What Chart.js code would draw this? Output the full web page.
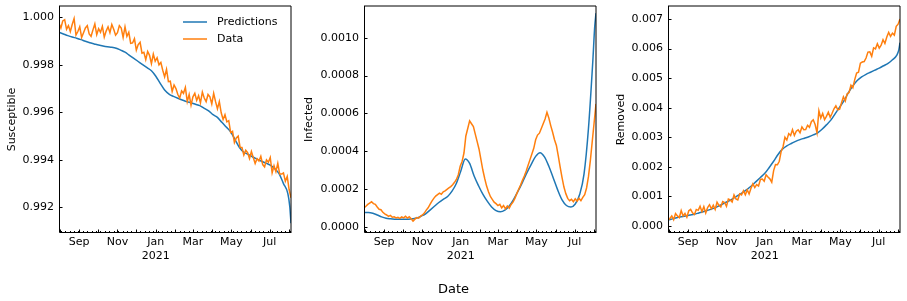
<!DOCTYPE html>
<html>
<head>
<meta charset="utf-8">
<script src="https://cdn.jsdelivr.net/npm/chart.js@4.4.1/dist/chart.umd.min.js"></script>
<style>
  html, body { margin: 0; padding: 0; background: #fff; }
  body { width: 907px; height: 301px; position: relative; overflow: hidden; font-family: 'DejaVu Sans', sans-serif; }
  .panel { position: absolute; top: 0; height: 301px; }
  #xtitle { position: absolute; left: 0; width: 907px; top: 281px; text-align: center; font-size: 13px; color: #000; }
</style>
</head>
<body>
<div class="panel" style="left:0px;width:300px"><canvas id="susChart" width="300" height="301"></canvas></div>
<div class="panel" style="left:300px;width:305px"><canvas id="infChart" width="305" height="301"></canvas></div>
<div class="panel" style="left:600px;width:307px"><canvas id="remChart" width="307" height="301"></canvas></div>
<div id="xtitle">Date</div>
<script>
// day 0 = 2020-07-30
const startDate = Date.UTC(2020, 6, 30);
const dayOf = s => (Date.parse(s) - startDate) / 864e5;

const tickDates = ['2020-09-01', '2020-11-01', '2021-01-01', '2021-03-01', '2021-05-01', '2021-07-01'];
const tickLabels = [['Sep'], ['Nov'], ['Jan', '2021'], ['Mar'], ['May'], ['Jul']];
const monthDates = ['2020-08-01', '2020-09-01', '2020-10-01', '2020-11-01', '2020-12-01', '2021-01-01',
    '2021-02-01', '2021-03-01', '2021-04-01', '2021-05-01', '2021-06-01', '2021-07-01', '2021-08-01'];

// observed data, one value every 3 days starting 2020-07-31
const susData = [
    0.99975, 0.99955, 0.99985, 0.99990, 0.99950, 0.99965, 0.99940, 0.99970, 0.99995, 0.99925,
    0.99940, 0.99960, 0.99915, 0.99935, 0.99955, 0.99965, 0.99930, 0.99920, 0.99947, 0.99972,
    0.99927, 0.99952, 0.99937, 0.99962, 0.99917, 0.99942, 0.99960, 0.99935, 0.99970, 0.99950,
    0.99925, 0.99935, 0.99965, 0.99955, 0.99915, 0.99960, 0.99920, 0.99937, 0.99890, 0.99892,
    0.99910, 0.99862, 0.99885, 0.99895, 0.99849, 0.99853, 0.99822, 0.99856, 0.99840, 0.99805,
    0.99845, 0.99815, 0.99830, 0.99800, 0.99810, 0.99777, 0.99749, 0.99781, 0.99729, 0.99731,
    0.99688, 0.99715, 0.99700, 0.99675, 0.99660, 0.99690, 0.99680, 0.99705, 0.99645, 0.99675,
    0.99630, 0.99665, 0.99680, 0.99650, 0.99670, 0.99640, 0.99685, 0.99660, 0.99645, 0.99675,
    0.99665, 0.99635, 0.99680, 0.99645, 0.99615, 0.99645, 0.99598, 0.99570, 0.99590, 0.99560,
    0.99565, 0.99515, 0.99520, 0.99473, 0.99492, 0.99500, 0.99453, 0.99452, 0.99420, 0.99440,
    0.99430, 0.99405, 0.99435, 0.99410, 0.99385, 0.99405, 0.99395, 0.99415, 0.99380, 0.99370,
    0.99400, 0.99390, 0.99410, 0.99345, 0.99375, 0.99350, 0.99385, 0.99340, 0.99340, 0.99345,
    0.99310, 0.99330, 0.99275, 0.99240
];
const infData = [
    0.000100, 0.000108, 0.000118, 0.000125, 0.000132, 0.000122, 0.000118, 0.000104, 0.000092, 0.000090,
    0.000076, 0.000068, 0.000062, 0.000055, 0.000060, 0.000050, 0.000052, 0.000046, 0.000050, 0.000044,
    0.000052, 0.000047, 0.000055, 0.000046, 0.000053, 0.000042, 0.000030, 0.000040, 0.000048, 0.000045,
    0.000056, 0.000062, 0.000072, 0.000088, 0.000100, 0.000118, 0.000135, 0.000150, 0.000162, 0.000170,
    0.000178, 0.000172, 0.000185, 0.000190, 0.000198, 0.000205, 0.000212, 0.000222, 0.000235, 0.000250,
    0.000275, 0.000320, 0.000345, 0.000390, 0.000480, 0.000520, 0.000560, 0.000545, 0.000530, 0.000490,
    0.000450, 0.000410, 0.000355, 0.000300, 0.000255, 0.000215, 0.000185, 0.000160, 0.000145, 0.000130,
    0.000122, 0.000112, 0.000118, 0.000100, 0.000112, 0.000095, 0.000110, 0.000098, 0.000118, 0.000130,
    0.000150, 0.000175, 0.000198, 0.000220, 0.000245, 0.000268, 0.000295, 0.000325, 0.000355, 0.000385,
    0.000415, 0.000460, 0.000485, 0.000495, 0.000520, 0.000545, 0.000570, 0.000605, 0.000575, 0.000535,
    0.000500, 0.000460, 0.000430, 0.000375, 0.000315, 0.000260, 0.000210, 0.000175, 0.000150, 0.000138,
    0.000145, 0.000132, 0.000148, 0.000135, 0.000150, 0.000138, 0.000155, 0.000170, 0.000205, 0.000265,
    0.000350, 0.000450, 0.000550, 0.000650
];
const remData = [
    0.000200, 0.000255, 0.000340, 0.000210, 0.000420, 0.000340, 0.000285, 0.000520, 0.000340, 0.000425,
    0.000295, 0.000515, 0.000560, 0.000445, 0.000390, 0.000560, 0.000530, 0.000665, 0.000485, 0.000655,
    0.000440, 0.000625, 0.000720, 0.000580, 0.000700, 0.000560, 0.000805, 0.000700, 0.000645, 0.000825,
    0.000795, 0.000665, 0.000910, 0.000880, 0.000810, 0.001050, 0.000915, 0.000880, 0.001085, 0.001050,
    0.001190, 0.001055, 0.001220, 0.001085, 0.001275, 0.001425, 0.001300, 0.001400, 0.001350, 0.001575,
    0.001590, 0.001515, 0.001730, 0.001655, 0.001595, 0.001480, 0.001875, 0.002075, 0.002070, 0.002190,
    0.002520, 0.002680, 0.003000, 0.002905, 0.003125, 0.003060, 0.003255, 0.003060, 0.003205, 0.003250,
    0.003155, 0.003350, 0.003255, 0.003260, 0.003405, 0.003335, 0.003525, 0.003590, 0.003430, 0.003150,
    0.003900, 0.003650, 0.003805, 0.003595, 0.003710, 0.003850, 0.003675, 0.003815, 0.003965, 0.004065,
    0.003930, 0.003950, 0.004165, 0.004370, 0.004225, 0.004470, 0.004515, 0.004760, 0.004675, 0.004950,
    0.005175, 0.005200, 0.005505, 0.005545, 0.005560, 0.005680, 0.005880, 0.005890, 0.005740, 0.006025,
    0.005990, 0.006165, 0.006015, 0.006115, 0.006300, 0.006170, 0.006390, 0.006550, 0.006410, 0.006520,
    0.006455, 0.006755, 0.006825, 0.007000
];

// model predictions, weekly from 2020-07-31 plus the last few days
const predDays = [1, 8, 15, 22, 29, 36, 43, 50, 57, 64, 71, 78, 85, 92, 99, 106, 113, 120, 127, 134,
    141, 148, 155, 162, 169, 176, 183, 190, 197, 204, 211, 218, 225, 232, 239, 246, 253, 260, 267, 274,
    281, 288, 295, 302, 309, 316, 323, 330, 337, 344, 351, 358, 365, 368, 370];
const susPred = [
    0.99937, 0.99930, 0.99923, 0.99917, 0.99912, 0.99906, 0.99899, 0.99893, 0.99888, 0.99883,
    0.99879, 0.99876, 0.99874, 0.99870, 0.99862, 0.99853, 0.99840, 0.99827, 0.99814, 0.99801,
    0.99788, 0.99775, 0.99752, 0.99722, 0.99694, 0.99677, 0.99667, 0.99659, 0.99652, 0.99645,
    0.99640, 0.99634, 0.99628, 0.99617, 0.99606, 0.99590, 0.99579, 0.99558, 0.99538, 0.99518,
    0.99485, 0.99452, 0.99432, 0.99423, 0.99412, 0.99403, 0.99394, 0.99386, 0.99378, 0.99363,
    0.99342, 0.99300, 0.99258, 0.99205, 0.99133
];
const infPred = [
    0.000075, 0.000075, 0.000071, 0.000062, 0.000052, 0.000045, 0.000042, 0.000040, 0.000039, 0.000039,
    0.000040, 0.000042, 0.000046, 0.000056, 0.000068, 0.000088, 0.000108, 0.000128, 0.000145, 0.000160,
    0.000188, 0.000230, 0.000295, 0.000358, 0.000335, 0.000270, 0.000218, 0.000172, 0.000135, 0.000104,
    0.000085, 0.000079, 0.000088, 0.000110, 0.000145, 0.000188, 0.000235, 0.000285, 0.000330, 0.000372,
    0.000392, 0.000370, 0.000320, 0.000258, 0.000195, 0.000142, 0.000112, 0.000104, 0.000120, 0.000170,
    0.000280, 0.000520, 0.000880, 0.001060, 0.001130
];
const remPred = [
    0.00020, 0.00024, 0.00028, 0.00031, 0.00034, 0.00037, 0.00040, 0.00044, 0.00048, 0.00053,
    0.00058, 0.00064, 0.00071, 0.00079, 0.00086, 0.00095, 0.00104, 0.00114, 0.00124, 0.00136,
    0.00150, 0.00164, 0.00178, 0.00198, 0.00219, 0.00242, 0.00260, 0.00271, 0.00279, 0.00286,
    0.00292, 0.00297, 0.00302, 0.00308, 0.00315, 0.00327, 0.00342, 0.00358, 0.00380, 0.00402,
    0.00424, 0.00451, 0.00474, 0.00492, 0.00504, 0.00513, 0.00520, 0.00527, 0.00534, 0.00542,
    0.00550, 0.00562, 0.00578, 0.00595, 0.00620
];

const susTicks = [0.992, 0.994, 0.996, 0.998, 1.000];
const infTicks = [0.0000, 0.0002, 0.0004, 0.0006, 0.0008, 0.0010];
const remTicks = [0.000, 0.001, 0.002, 0.003, 0.004, 0.005, 0.006, 0.007];

const BLUE = '#1f77b4';
const ORANGE = '#ff7f0e';
const FONT = { family: 'DejaVu Sans', size: 11 };

const dataPoints = vals => vals.map((v, i) => ({ x: 1 + 3 * i, y: v }));
const predPoints = vals => vals.map((v, i) => ({ x: predDays[i], y: v }));

// inward ticks, spines and (optionally) the legend
const framePlugin = {
    id: 'frame',
    afterDraw(chart, args, opts) {
        const { ctx, chartArea: a, scales: { x, y } } = chart;
        ctx.save();
        ctx.strokeStyle = '#000';
        ctx.lineWidth = 1;
        ctx.beginPath();
        opts.yTicks.forEach(v => {
            const py = Math.round(y.getPixelForValue(v)) + 0.5;
            ctx.moveTo(a.left, py);
            ctx.lineTo(a.left + 3.5, py);
        });
        monthDates.forEach(s => {
            const px = Math.round(x.getPixelForValue(dayOf(s))) + 0.5;
            if (px > a.left && px < a.right) {
                ctx.moveTo(px, a.bottom);
                ctx.lineTo(px, a.bottom - 3.5);
            }
        });
        for (let d = dayOf('2020-08-03'); d <= x.max; d += 7) {
            const px = Math.round(x.getPixelForValue(d)) + 0.5;
            ctx.moveTo(px, a.bottom);
            ctx.lineTo(px, a.bottom - 2);
        }
        ctx.stroke();

        ctx.beginPath();
        ctx.moveTo(a.left + 0.5, a.top);
        ctx.lineTo(a.left + 0.5, a.bottom - 0.5);
        ctx.lineTo(a.right, a.bottom - 0.5);
        ctx.stroke();
        ctx.beginPath();
        ctx.moveTo(a.left, a.top);
        ctx.lineTo(a.right, a.top);
        ctx.lineTo(a.right, a.bottom);
        ctx.stroke();

        if (opts.legend) {
            ctx.font = '11px "DejaVu Sans"';
            ctx.textBaseline = 'middle';
            ctx.fillStyle = '#000';
            chart.data.datasets.forEach((ds, i) => {
                const ly = 22 + i * 17;
                ctx.strokeStyle = ds.borderColor;
                ctx.lineWidth = 1.5;
                ctx.beginPath();
                ctx.moveTo(183, ly);
                ctx.lineTo(207, ly);
                ctx.stroke();
                ctx.fillText(ds.label, 217, ly);
            });
        }
        ctx.restore();
    }
};

function makePanel(id, cfg) {
    const ctx = document.getElementById(id).getContext('2d');
    return new Chart(ctx, {
        type: 'line',
        data: {
            datasets: [{
                label: 'Predictions',
                data: predPoints(cfg.pred),
                borderColor: BLUE,
                borderWidth: 1.5,
                pointRadius: 0,
                cubicInterpolationMode: 'monotone',
                order: 2
            }, {
                label: 'Data',
                data: dataPoints(cfg.data),
                borderColor: ORANGE,
                borderWidth: 1.5,
                pointRadius: 0,
                tension: 0,
                order: 1
            }]
        },
        options: {
            responsive: false,
            animation: false,
            devicePixelRatio: 1,
            layout: { padding: { left: 0, right: cfg.rightPad, top: 6, bottom: 0 } },
            plugins: {
                legend: { display: false },
                tooltip: { enabled: false },
                frame: { yTicks: cfg.ticks, legend: cfg.legend }
            },
            scales: {
                x: {
                    type: 'linear',
                    min: 1,
                    max: 370,
                    afterBuildTicks: s => { s.ticks = tickDates.map(t => ({ value: dayOf(t) })); },
                    afterFit: s => { s.height = 68; s.paddingLeft = 0; s.paddingRight = 0; },
                    grid: { display: false, drawTicks: false },
                    border: { display: false },
                    ticks: {
                        autoSkip: false,
                        maxRotation: 0,
                        padding: 3,
                        font: FONT,
                        color: '#000',
                        callback: (v, i) => tickLabels[i]
                    }
                },
                y: {
                    type: 'linear',
                    min: cfg.min,
                    max: cfg.max,
                    afterBuildTicks: s => { s.ticks = cfg.ticks.map(v => ({ value: v })); },
                    afterFit: s => { s.width = cfg.axisW; s.paddingTop = 0; s.paddingBottom = 0; },
                    grid: { display: false, drawTicks: false },
                    border: { display: false },
                    ticks: {
                        padding: 5,
                        font: FONT,
                        color: '#000',
                        callback: v => v.toFixed(cfg.dec)
                    },
                    title: {
                        display: true,
                        text: cfg.title,
                        font: FONT,
                        color: '#000',
                        padding: { top: cfg.titlePad, bottom: 0 }
                    }
                }
            }
        },
        plugins: [framePlugin]
    });
}

makePanel('susChart', {
    data: susData, pred: susPred, ticks: susTicks, dec: 3,
    min: 0.99092, max: 1.000476, title: 'Susceptible',
    axisW: 59, rightPad: 9, titlePad: 5.4, legend: true
});
makePanel('infChart', {
    data: infData, pred: infPred, ticks: infTicks, dec: 4,
    min: -0.0000333, max: 0.001168, title: 'Infected',
    axisW: 64, rightPad: 9, titlePad: 2.1, legend: false
});
makePanel('remChart', {
    data: remData, pred: remPred, ticks: remTicks, dec: 3,
    min: -0.000237, max: 0.00744, title: 'Removed',
    axisW: 68, rightPad: 7, titlePad: 14.4, legend: false
});
</script>
</body>
</html>
